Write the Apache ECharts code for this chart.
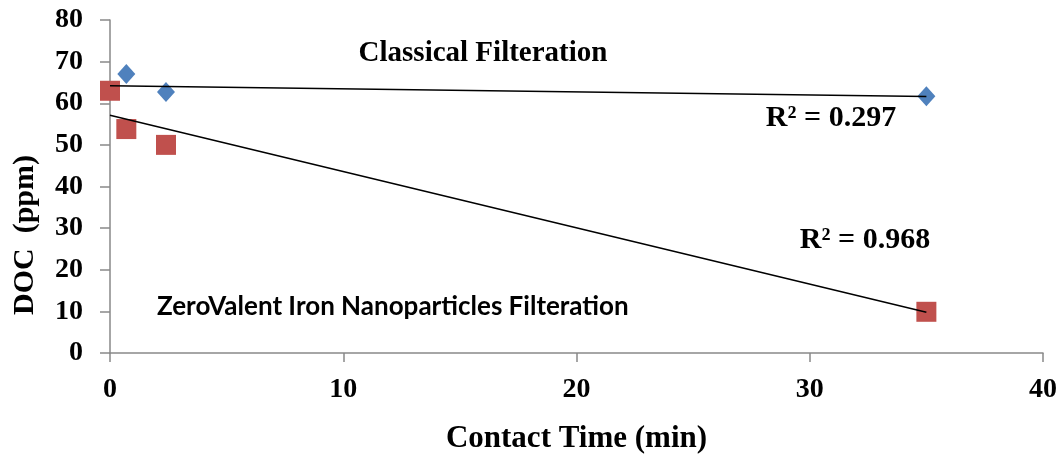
<!DOCTYPE html>
<html><head><meta charset="utf-8">
<script src="https://cdn.jsdelivr.net/npm/echarts@6/dist/echarts.min.js"></script>
<style>html,body{margin:0;padding:0;background:#fff}#c{width:1064px;height:454px}</style>
</head><body><div id="c"></div>
<script>
var xTicks = [0, 10, 20, 30, 40];
var yTicks = [0, 10, 20, 30, 40, 50, 60, 70, 80];
var classicalX = [0.7, 2.4, 35];
var classicalY = [67, 62.7, 61.7];
var zviX = [0, 0.7, 2.4, 35];
var zviY = [63, 53.8, 50, 9.9];
var classicalTrendX = [0, 35];
var classicalTrendY = [64.2, 61.6];
var zviTrendX = [0, 35];
var zviTrendY = [57.1, 9.8];

function pairs(xs, ys){ return xs.map(function(x,i){return [x, ys[i]];}); }
var serif = 'Liberation Serif';
var chart = echarts.init(document.getElementById('c'));
chart.setOption({
  animation: false,
  grid: {left: 110, right: 21, top: 20, bottom: 101, containLabel: false, outerBoundsMode: 'none'},
  xAxis: {
    type: 'value', min: xTicks[0], max: xTicks[xTicks.length-1], interval: 10,
    name: 'Contact Time (min)', nameLocation: 'middle', nameGap: 70,
    nameTextStyle: {fontFamily: serif, fontWeight: 'bold', fontSize: 31, color: '#000'},
    axisLine: {show: true, lineStyle: {color: '#898989', width: 1.5}},
    axisTick: {show: true, length: 9, lineStyle: {color: '#898989', width: 1.5}},
    splitLine: {show: false},
    axisLabel: {fontFamily: serif, fontWeight: 'bold', fontSize: 28, color: '#000', margin: 23}
  },
  yAxis: {
    type: 'value', min: yTicks[0], max: yTicks[yTicks.length-1], interval: 10,
    axisLine: {show: true, lineStyle: {color: '#898989', width: 1.5}},
    axisTick: {show: true, length: 10, lineStyle: {color: '#898989', width: 1.5}},
    splitLine: {show: false},
    axisLabel: {fontFamily: serif, fontWeight: 'bold', fontSize: 28, color: '#000', margin: 27,
                verticalAlign: 'middle', padding: [4, 0, 0, 0]}
  },
  series: [
    {type: 'scatter', name: 'Classical', data: pairs(classicalX, classicalY),
     symbol: 'diamond', symbolSize: [18, 20], itemStyle: {color: '#4f81bd', opacity: 1}, z: 2},
    {type: 'scatter', name: 'ZVI', data: pairs(zviX, zviY),
     symbol: 'rect', symbolSize: 20, itemStyle: {color: '#c0504d', opacity: 1}, z: 2},
    {type: 'line', data: pairs(classicalTrendX, classicalTrendY), symbol: 'none',
     lineStyle: {color: '#000', width: 1.5}, z: 3},
    {type: 'line', data: pairs(zviTrendX, zviTrendY), symbol: 'none',
     lineStyle: {color: '#000', width: 1.5}, z: 3}
  ],
  graphic: [
    {type: 'text', x: 25, y: 235, rotation: Math.PI/2,
     style: {text: 'DOC  (ppm)', fontFamily: serif, fontWeight: 'bold', fontSize: 30, fill: '#000', align: 'center', verticalAlign: 'middle'}},
    {type: 'text', x: 483, y: 54, style: {text: 'Classical Filteration', fontFamily: serif, fontWeight: 'bold', fontSize: 29, fill: '#000', align: 'center', verticalAlign: 'middle'}},
    {type: 'text', x: 831, y: 118, style: {text: 'R² = 0.297', fontFamily: serif, fontWeight: 'bold', fontSize: 30, fill: '#000', align: 'center', verticalAlign: 'middle'}},
    {type: 'text', x: 865, y: 240, style: {text: 'R² = 0.968', fontFamily: serif, fontWeight: 'bold', fontSize: 30, fill: '#000', align: 'center', verticalAlign: 'middle'}},
    {type: 'text', x: 157, y: 307, style: {text: 'ZeroValent Iron Nanoparticles Filteration', fontFamily: 'Lato', fontWeight: 'bold', fontSize: 26, fill: '#000', align: 'left', verticalAlign: 'middle'}}
  ]
});
</script></body></html>
